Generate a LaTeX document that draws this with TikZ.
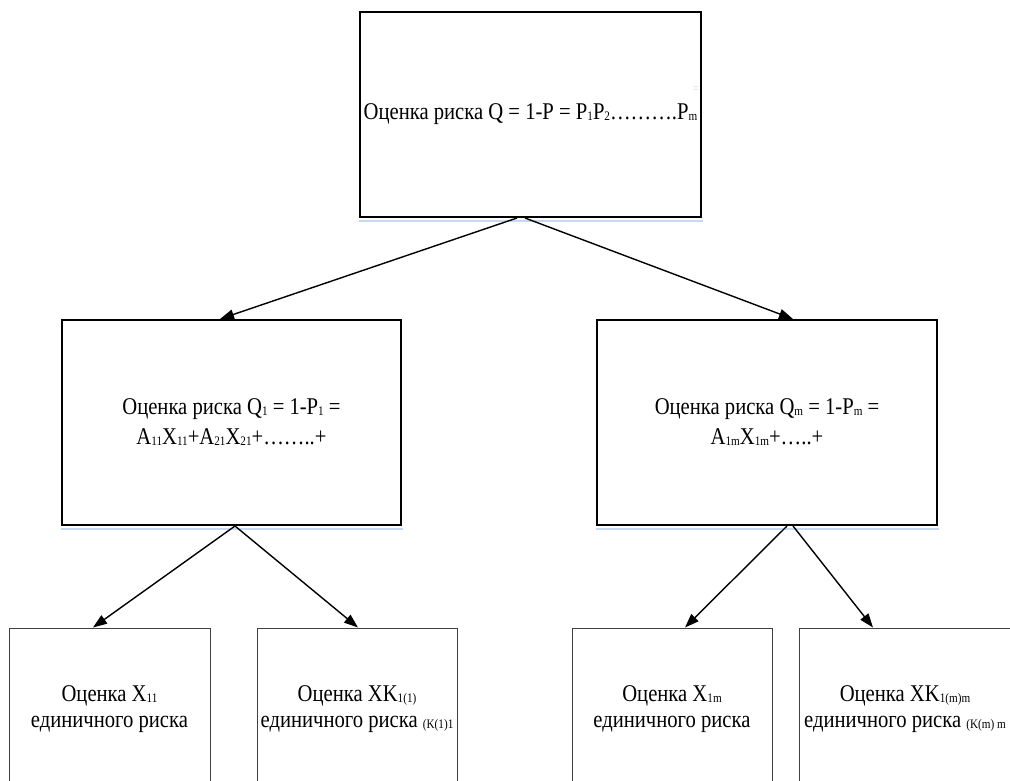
\documentclass[tikz,border=0pt]{standalone}
\usepackage{fontspec}
\setmainfont{Liberation Serif}[FakeStretch=0.86]
\usetikzlibrary{arrows.meta}
\definecolor{shadowblue}{HTML}{C6D9F1}
\newcommand{\sbs}[1]{\raisebox{-1pt}{\fontsize{13}{13}\selectfont #1}}
\begin{document}
\begin{tikzpicture}[x=1pt,y=-1pt,
  bigbox/.style={draw=black, line width=2pt, inner sep=0pt, align=center,
    font=\fontsize{24}{30}\selectfont},
  smallbox/.style={draw=black!75, line width=1pt, inner sep=0pt, align=center,
    minimum width=200pt, minimum height=162pt, font=\fontsize{24}{26}\selectfont},
  arr/.style={-{Triangle[length=14pt,width=10pt]}, line width=1.4pt},
  shade/.style={draw=shadowblue, line width=2pt}]
\useasboundingbox (0,0) rectangle (1010,780);
\clip (0,0) rectangle (1010,780);
\fill[white] (0,0) rectangle (1010,780);

\node[bigbox, minimum width=341pt, minimum height=205pt] (top) at (530.5,114.5)
  {Оценка риска Q = 1-P = P\sbs{1}P\sbs{2}……….P\sbs{m}};
\node[text=shadowblue, font=\fontsize{12}{12}\selectfont, inner sep=0pt] (stray) at (696,90) {=};

\node[bigbox, minimum width=339pt, minimum height=205pt] (ml) at (231.5,422.5)
  {Оценка риска Q\sbs{1} = 1-P\sbs{1} =\\ A\sbs{11}X\sbs{11}+A\sbs{21}X\sbs{21}+……..+};
\node[bigbox, minimum width=340pt, minimum height=205pt] (mr) at (767,422.5)
  {Оценка риска Q\sbs{m} = 1-P\sbs{m} =\\ A\sbs{1m}X\sbs{1m}+…..+};

\draw[shade] ([yshift=-2.5pt]top.south west) -- ([yshift=-2.5pt,xshift=1pt]top.south east);
\draw[shade] ([yshift=-2.5pt]ml.south west) -- ([yshift=-2.5pt,xshift=1pt]ml.south east);
\draw[shade] ([yshift=-2.5pt]mr.south west) -- ([yshift=-2.5pt,xshift=1pt]mr.south east);

\node[smallbox, minimum width=201pt] (b1) at (109.5,709) {Оценка X\sbs{11}\\единичного риска};
\node[smallbox] (b2) at (357,709) {Оценка XK\sbs{1(1)}\\единичного риска \sbs{(K(1)1}};
\node[smallbox] (b3) at (672,709) {Оценка X\sbs{1m}\\единичного риска};
\node[smallbox, minimum width=212pt] (b4) at (905,709) {Оценка XK\sbs{1(m)m}\\единичного риска \sbs{(K(m) m}};

\draw[arr] ([xshift=-13.5pt]top.south) -- ([xshift=-11.5pt]ml.north);
\draw[arr] ([xshift=-5.5pt]top.south) -- ([xshift=26pt]mr.north);
\draw[arr] ([xshift=3.5pt]ml.south) -- ([xshift=-16.5pt]b1.north);
\draw[arr] ([xshift=3.5pt]ml.south) -- ([xshift=1pt]b2.north);
\draw[arr] ([xshift=20pt]mr.south) -- ([xshift=13pt]b3.north);
\draw[arr] ([xshift=26pt]mr.south) -- ([xshift=-32pt]b4.north);
\end{tikzpicture}
\end{document}
